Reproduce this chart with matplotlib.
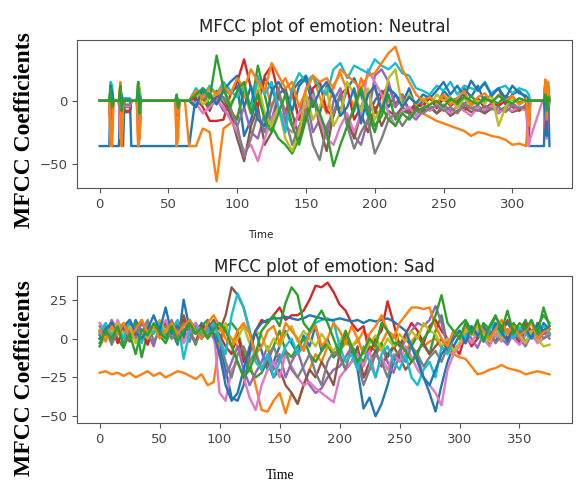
import matplotlib
matplotlib.use('Agg')
import matplotlib.pyplot as plt

### Frame axes (MFCC frame index)
neutral_time = ([0, 7, 8, 9, 10, 14, 15, 16, 17, 18, 20, 22, 23, 27, 28, 29, 30, 31, 55, 56, 57, 58, 62]
                + list(range(65, 311, 5))
                + [312, 313, 322, 323, 324, 325, 326, 327])
sad_time = list(range(0, 376, 5))

### Neutral: 13 coefficients (quiet start / speech / quiet end)
neu_c0 = [-36, -36, 14, -36, -36, -36, 2, -36, -36, 0, 0, 0, -36, -36, -36, -36, -36, -36, -36, -36, -36, -36, -36,
          -36, 5, 8, -5, 3, 10, 5, 12, -28, -15, 5, 18, 10, -5, -18, 8, 15, 20, 5, -10,
          12, 3, -8, 10, 18, 5, -12, 0, 8, -5, 5, -2, 10, -6, 0, 4, -5, 8, 2, -4,
          10, 3, 12, -2, 6, 10, -3, 5, 8, 2,
          -36, -36, -36, -36, 10, -25, 5, -36]
neu_c1 = [0, 0, -36, -30, 0, 0, 12, -36, 0, 0, 0, 0, 0, 0, -36, -20, 0, 0, 0, -36, -30, 0, 0,
          -36, -36, -22, -25, -64, -22, -18, -12, 5, -10, 8, 15, -5, 10, 18, 5, -15, 10, 20, 3,
          -10, 12, 22, 8, -5, 18, 5, 10, -8, 0, -5, 3, -8, -5, -10, -13, -16, -18, -20, -22,
          -24, -28, -25, -26, -28, -29, -31, -35, -34, -36,
          0, 0, 0, 0, 15, -30, 10, 0]
neu_c2 = [0, 0, 5, -8, 0, 0, -5, 3, 0, 0, 0, 0, 0, 0, 15, 8, 0, 0, 0, 5, -10, 0, 0,
          0, 3, 5, -3, 8, 2, -8, -15, 10, -5, 28, 5, -20, -30, -35, -42, -30, -10, 8, -15,
          -25, -10, 5, -18, -8, 10, -5, -20, -12, 5, -15, -8, -10, -5, -3, 2, -4, 3, 0, 2,
          -3, 4, -2, 3, 0, -2, 4, 1, -1, 0,
          0, 0, 0, 0, 8, -5, 12, 0]
neu_c3 = [0, 0, -20, -10, 0, 0, -30, -10, 0, -8, -8, -8, 0, 0, -10, -25, 0, 0, 0, -10, -12, 0, 0,
          0, 2, -5, -16, -16, -15, 5, 15, 33, 10, -5, 20, 28, 5, -10, 8, -15, -5, 10, 15,
          -8, -12, 5, 10, -15, -5, 8, -10, 5, 12, -3, 5, -8, -2, -5, 3, -6, 2, -4, 0,
          -8, -3, 2, -6, -2, -4, 0, -5, -8, -3,
          -30, 0, 0, 0, -20, -25, -10, 0]
neu_c4 = [0, 0, -10, -5, 0, 0, -15, 5, 0, -5, -5, -5, 0, 0, -5, -10, 0, 0, 0, -5, -3, 0, 0,
          0, -5, 3, 5, 2, -8, -12, -20, -5, -25, -30, -10, -15, 5, -8, -20, -10, 5, -25, -15,
          -30, 0, 10, -20, -28, -35, -15, 20, 25, 15, -5, 5, -10, -15, -8, -5, -10, -3, -8, -5,
          -2, -6, -4, -8, -3, -10, -5, -2, -6, -4,
          0, 0, 0, 0, -5, -10, 5, 0]
neu_c5 = [0, 0, -25, -15, 0, 0, -20, -12, 0, -9, -9, -9, 0, 0, -15, -30, 0, 0, 0, -8, -6, 0, 0,
          0, -3, 2, -8, 5, -2, -10, -30, -48, -20, -5, -35, -25, 5, 10, -10, -30, -15, 5, -20,
          -40, -10, 5, -15, -30, -10, -25, -5, -20, -8, -12, -5, -10, -6, -8, -4, -10, -6, -12, -8,
          -5, -9, -7, -10, -6, -8, -5, -9, -7, -6,
          -15, 0, 0, 0, 15, -20, 12, 0]
neu_c6 = [0, 0, -28, -20, 0, 0, -30, -25, 0, -4, -4, -4, 0, 0, -25, -30, 0, 0, 0, -6, -10, 0, 0,
          0, -2, -10, -5, 0, -5, -15, -25, -40, -35, -48, -30, -15, -5, -20, -25, -10, -5, 5, -15,
          -30, -35, -20, -10, -25, -10, 25, 15, 5, -10, -20, -8, -5, -12, -4, -8, -3, -6, -10, -4,
          -8, -12, -5, -7, -4, -9, -6, -8, -5, -8,
          -36, -30, 0, 0, -15, -30, -5, 0]
neu_c7 = [0, 0, -15, -8, 0, 0, -10, -5, 0, -3, -3, -3, 0, 0, -8, -12, 0, 0, 0, -4, -5, 0, 0,
          0, -4, 2, 4, -2, 3, -5, -20, -45, -30, -10, -25, -5, 10, -15, -35, -20, -8, -35, -47,
          -20, -10, 5, -20, -38, -25, -15, -42, -30, -15, -10, -20, -12, -8, -10, -6, -4, -8, -5, -10,
          -3, -6, -8, -4, -7, -5, -9, -4, -6, -5,
          -10, 0, 0, 0, -8, -12, 2, 0]
neu_c8 = [0, 0, 8, 4, 0, 0, 10, 5, 0, 0, 0, 0, 0, 0, 14, 10, 0, 0, 0, 3, 2, 0, 0,
          0, 6, -3, 2, 5, 8, -2, 5, 10, -8, 15, -10, -20, -5, -30, -40, -25, 5, -15, -5,
          10, -20, -10, 15, 5, -8, 10, -15, -5, 18, 25, -5, 5, -3, 2, -4, 5, 0, 3, -6,
          2, -4, 0, -2, 5, -20, -5, 2, -3, 0,
          0, 0, 0, 0, 10, -5, 8, 0]
neu_c9 = [0, 0, 15, 12, 0, 0, 8, 4, 0, 2, 2, 2, 0, 0, 10, 6, 0, 0, 0, 2, 1, 0, 0,
          0, 10, 3, 12, 5, 15, 8, 3, 12, -10, 20, 5, 15, -5, -25, 10, 22, 15, 20, 10,
          5, 25, 30, 18, 28, 25, 22, 33, 28, 25, 30, 22, 20, 10, 8, 5, 12, 8, 15, 5,
          12, 10, 8, 15, 5, 10, 12, 6, 10, 8,
          5, 0, 0, 0, 12, 3, 10, 0]
neu_c10 = [0, 0, 12, 6, 0, 0, 10, 2, 0, 1, 1, 1, 0, 0, 6, 3, 0, 0, 0, 1, 0, 0, 0,
           0, -5, 10, 5, -3, 8, 15, 20, -5, 12, -15, -20, 8, 15, 5, -8, 12, 18, -5, 8,
           15, 5, -12, -5, 10, -18, 5, 12, -8, 10, 5, -5, 3, -2, 5, 2, 8, 15, 5, 12,
           3, 16, 8, 14, 4, 10, 2, 12, 6, 4,
           0, 0, 0, 0, -10, -28, 0, 0]
neu_c11 = [0, 0, -30, -36, 0, 0, 15, -36, 0, 0, 0, 0, 0, 0, -36, -30, 0, 0, 0, -36, -20, 0, 0,
           0, 8, 2, 10, 5, 12, 5, 18, 10, 25, 15, 8, 30, 20, 10, 15, -5, 8, 20, 15,
           18, 10, 25, 20, 15, 10, 20, 22, 30, 38, 43, 25, 15, 5, 0, 3, -2, 5, -3, 2,
           8, -4, 3, 6, -2, 5, 0, 4, -3, 2,
           -20, 0, 0, 0, 17, -15, 15, 0]
neu_c12 = [0, 0, 10, -5, 0, 0, 12, -8, 0, 0, 0, 0, 0, 0, 15, -10, 0, 0, 0, 4, -6, 0, 0,
           0, 5, 10, 2, 36, 10, -5, 8, 15, -10, 5, -15, -25, -10, 5, -20, -35, -15, 0, -10,
           -25, -52, -35, -20, -5, 10, -10, -25, -5, -15, -20, -10, -15, -8, -6, -3, 0, -5, 2, -2,
           3, 0, -3, 2, -1, 4, 0, -2, 2, 0,
           0, 0, 0, 0, 5, -8, 3, 0]

### Sad: 13 coefficients
sad_c0 = [3, 8, -2, 10, 5, 0, 12, 4, -3, 8, 2, 10, 5, -4, 25, 6, 3, 10, 5, 8,
          -5, -20, -38, -40, -30, -10, 5, -8, -20, -15, -5, 5, -3, -10, 2, -5, 8, -8, 0, -12,
          -5, 3, -8, -20, -45, -38, -50, -42, -30, -15, -8, 0, -5, -12, -25, -35, -47, -30, -15, -5,
          2, -3, 5, 0, 8, 3, -2, 6, 10, 4, -3, 8, 5, 0, 10, 6]
sad_c1 = [-22, -21, -23, -22, -24, -22, -25, -23, -21, -24, -22, -25, -23, -21, -22, -24, -26, -23, -30, -28,
          -2, 5, 0, -5, -8, -15, -30, -46, -47, -40, -35, -48, -35, -42, -30, -20, -10, -15, -5, -10,
          -8, -3, -5, -2, 5, 0, -6, -3, 5, 2, -4, -8, -2, 3, -5, -2, 0, -6, -8, -10,
          -12, -13, -18, -23, -22, -20, -19, -17, -19, -20, -21, -23, -22, -21, -22, -23]
sad_c2 = [-5, 3, 8, 0, -6, 5, 10, -12, 4, 8, 2, -3, 6, 10, 0, 5, -4, 8, 12, 5,
          0, 8, 10, 5, -10, -20, -25, -22, -15, -5, 5, -8, -12, -5, 0, -10, -15, -8, -3, -12,
          -8, 0, -5, -10, -15, -5, -8, -3, -12, -6, -2, -8, -5, 2, -4, -10, 5, 15, -5, 3,
          8, 12, 5, 0, 10, 6, 14, 8, 3, 10, 5, 12, 2, 8, 15, 10]
sad_c3 = [5, 0, 8, -3, 6, 10, 2, 5, -4, 8, 3, 10, 0, 5, 12, 4, -2, 8, 5, 10,
          2, -5, -10, 3, -15, -8, 5, 12, 10, 15, 20, 12, 15, 15, 18, 25, 34, 33, 36, 30,
          22, 18, 10, 5, 8, -10, 0, 5, 24, 10, -5, 3, 10, 5, -3, 8, 12, 5, 0, -5,
          -10, 3, -5, 0, 5, -3, 2, 8, 0, 5, -3, 6, 2, -2, 5, 3]
sad_c4 = [8, 2, 12, 5, -3, 6, 0, 10, 4, -5, 8, 3, 12, 0, 6, -2, 10, 4, 7, 0,
          -10, -25, -15, -5, -20, -30, -22, -15, -5, -20, -10, -25, -15, -8, -20, -30, -35, -32, -25, -20,
          -18, -12, -5, -15, -25, -20, -10, -5, -15, -22, -10, 0, 5, 10, 8, 12, 21, 10, -5, -8,
          -3, 5, 0, -6, 3, -2, 6, 0, -4, 4, 0, -5, 3, -2, 5, 0]
sad_c5 = [0, 5, 10, 3, 8, -2, 6, 12, 3, 8, 5, 0, 10, 6, 15, 3, 8, 0, 5, 12,
          5, 15, 33, 28, 20, 5, -10, -20, -15, -25, -20, -30, -35, -42, -30, -20, -25, -15, -22, -30,
          -10, -20, -15, -5, -25, -15, -8, -18, -10, -5, -12, -20, -15, -8, -3, -10, -5, 0, -8, 5,
          0, 8, 3, 10, 5, -2, 8, 4, 12, 6, 2, 10, 5, 8, 3, 6]
sad_c6 = [10, 5, 0, 12, 3, 8, 5, 0, 10, 4, 6, 12, 2, 8, -3, 6, 10, 3, 8, 5,
          -35, -40, -20, -15, -25, -38, -46, -30, -20, -15, -25, -10, -18, -25, -30, -28, -32, -35, -38, -41,
          -25, -20, -15, -10, -18, -8, -25, -12, -20, -10, -15, -5, -12, -20, -25, -30, -35, -43, -20, -10,
          -5, 2, -3, 5, 0, -5, 3, -2, 6, 0, -4, 2, 5, -3, 0, 4]
sad_c7 = [2, 7, -4, 5, 10, 0, 6, 3, 12, -2, 5, 8, 0, 4, 10, 6, -3, 5, 2, 8,
          0, -15, -25, -10, -5, -15, -8, -20, -12, -5, -15, -8, -20, -25, -18, -10, -22, -30, -15, -8,
          -12, -20, -5, -15, -30, -20, -10, -15, -25, -12, -8, -15, -5, -10, -18, -12, -8, -15, -5, 0,
          5, -2, 3, 8, 0, 5, -3, 2, 6, 1, 4, -2, 3, 7, 0, 2]
sad_c8 = [6, 0, 4, 10, 2, 8, -3, 5, 0, 7, 12, 4, 8, -2, 5, 10, 3, 6, 0, 4,
          5, 10, -5, 0, 8, -3, 5, 2, -8, 0, -5, 3, 8, -2, 5, 0, -5, 3, -3, -8,
          -2, 5, -5, 0, -10, -3, 2, -8, 0, -5, 3, -2, 5, 0, 10, 5, 3, -5, 0, -8,
          -3, 5, 2, 8, 3, -2, 6, 0, 4, 8, 2, -3, 5, 0, -5, -4]
sad_c9 = [4, 10, 2, 7, 0, 12, 5, -3, 8, 3, 10, 0, 6, 12, -13, 4, 8, 2, 5, 10,
          0, -10, 15, 29, 20, 5, -15, -20, -10, -25, -15, -5, 0, -10, -5, 5, 10, 12, 13, 11,
          -5, -15, -10, -20, -5, -15, -25, -10, -5, -15, -20, -10, -25, -30, -20, -15, -25, -5, -10, 0,
          5, 0, 8, 3, -2, 6, 10, 2, 5, 0, 7, 3, 0, 5, 8, 3]
sad_c10 = [0, 6, 10, 3, 8, 12, 4, 0, 6, 15, 5, 20, 3, 8, 2, 12, 5, 0, 10, 3,
           -10, -30, -40, -35, -20, -5, 5, 10, 12, 13, 13, 14, 13, 12, 13, 15, 14, 13, 12, 12,
           13, 12, 11, 12, 10, 12, 11, 12, 13, 11, 8, 5, -5, -15, -25, -30, -20, -10, -5, 0,
           5, -3, 8, 2, 6, 0, 10, 4, -2, 8, 3, 6, 0, 10, 5, 8]
sad_c11 = [5, -2, 8, 3, 10, 0, 6, 12, 4, 8, 0, 5, 10, 3, 8, 12, 5, 0, 10, 15,
           8, 0, -5, 5, 10, 3, -10, -5, 5, 8, -3, 10, 5, 0, -8, 3, 8, -5, 0, 10,
           5, -3, 8, 0, -10, 3, 8, 15, 5, 0, 10, 15, 20, 20, 19, 20, 8, 0, -5, 5,
           0, 8, 3, 10, 5, 0, 6, 12, 3, 8, 2, 5, 10, 0, 4, 6]
sad_c12 = [-3, 5, 0, 8, -5, 3, -10, 6, 2, 10, 4, 0, 8, -2, 5, 10, 3, 7, 0, 6,
           10, 5, -5, -15, -25, -20, -10, 5, 10, 15, 8, 23, 33, 28, 10, 5, 12, 18, 10, 0,
           -10, 5, -5, -15, -8, 0, -5, 10, 5, -3, -3, -8, -15, -10, 0, 5, 15, 28, 10, 5,
           0, 10, 3, 12, -2, 8, 15, 5, 18, 3, 10, 6, 12, 3, 20, 8]

neutral_coeffs = [neu_c0, neu_c1, neu_c2, neu_c3, neu_c4, neu_c5, neu_c6,
                  neu_c7, neu_c8, neu_c9, neu_c10, neu_c11, neu_c12]
sad_coeffs = [sad_c0, sad_c1, sad_c2, sad_c3, sad_c4, sad_c5, sad_c6,
              sad_c7, sad_c8, sad_c9, sad_c10, sad_c11, sad_c12]

neutral_xticks = [0, 50, 100, 150, 200, 250, 300]
neutral_yticks = [-50, 0]
sad_xticks = [0, 50, 100, 150, 200, 250, 300, 350]
sad_yticks = [-50, -25, 0, 25]

### Plotting
fig = plt.figure(figsize=(5.76, 4.82), dpi=100)
ax1 = fig.add_axes([0.134, 0.610, 0.859, 0.307])
ax2 = fig.add_axes([0.134, 0.1225, 0.859, 0.305])

for i, vals in enumerate(neutral_coeffs):
	ax1.plot(neutral_time, vals, color='C%d' % (i % 10), lw=1.7)
for i, vals in enumerate(sad_coeffs):
	ax2.plot(sad_time, vals, color='C%d' % (i % 10), lw=1.7)

ax1.set_xticks(neutral_xticks)
ax1.set_yticks(neutral_yticks)
ax2.set_xticks(sad_xticks)
ax2.set_yticks(sad_yticks)

for ax in [ax1, ax2]:
	for sp in ax.spines.values():
		sp.set_color('#555555')
	ax.tick_params(colors='#555555', labelcolor='#444444', labelsize=9.5)

ax1.set_title('MFCC plot of emotion: Neutral', fontsize=12, color='#222222')
ax2.set_title('MFCC plot of emotion: Sad', fontsize=12, color='#222222', pad=3)

serif = ['Liberation Serif', 'DejaVu Serif']
fig.text(0.042, 0.730, 'MFCC Coefficients', rotation=90, ha='center', va='center',
         family=serif, fontweight='bold', fontsize=17)
fig.text(0.042, 0.216, 'MFCC Coefficients', rotation=90, ha='center', va='center',
         family=serif, fontweight='bold', fontsize=17)
fig.text(0.453, 0.512, 'Time', ha='center', va='center', fontsize=7.5, color='#222222')
fig.text(0.486, 0.013, 'Time', ha='center', va='center', family=serif, fontsize=10)

plt.savefig('out.png', dpi=100)
